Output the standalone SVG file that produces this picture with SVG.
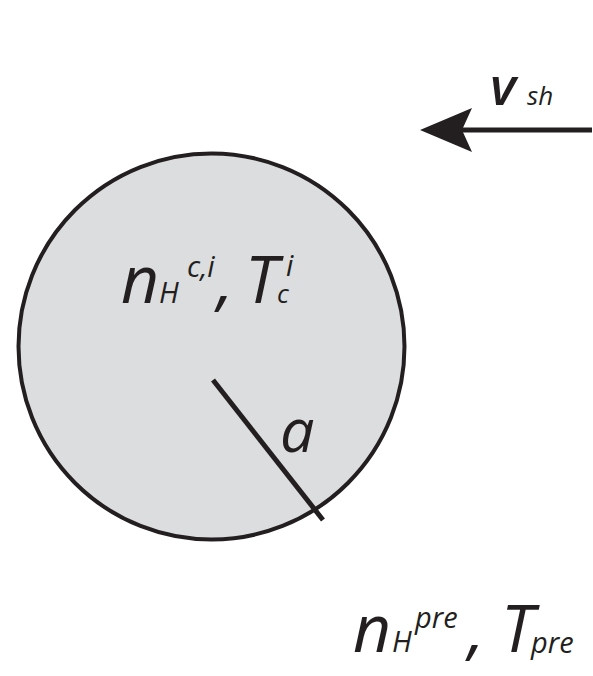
<svg xmlns="http://www.w3.org/2000/svg" width="593" height="676" viewBox="0 0 593 676">
<style>
.t{font-family:"Open Sans","Noto Sans",sans-serif;font-style:italic;font-weight:500;fill:#231f20}
.big{font-size:66px}
.sm{font-size:29px}
</style>
<rect width="593" height="676" fill="#fff"/>
<g id="cloud">
<circle cx="211.5" cy="346.5" r="193" fill="#dcdddf" stroke="#231f20" stroke-width="4"/>
<line x1="213" y1="380" x2="323" y2="520" stroke="#231f20" stroke-width="5"/>
<text class="t" x="280" y="452" font-size="61">a</text>
<text class="t"><tspan class="big" x="121" y="303">n</tspan><tspan class="sm" x="159" y="303">H</tspan><tspan class="sm" x="187" y="277">c,i</tspan><tspan class="big" x="217" y="303">,</tspan><tspan class="big" x="245" y="303">T</tspan><tspan class="sm" x="286" y="276">i</tspan><tspan font-size="26" x="277" y="303">c</tspan></text>
</g>
<g id="connectors">
<line x1="460" y1="130" x2="592" y2="130" stroke="#231f20" stroke-width="5"/>
<path d="M420,130 L472,108 L462,130 L472,152 Z" fill="#231f20"/>
</g>
<g id="labels">
<text class="t"><tspan x="490" y="105" font-size="53" font-weight="600">v</tspan><tspan x="527" y="105" font-size="26">sh</tspan></text>
<text class="t"><tspan class="big" x="353" y="652">n</tspan><tspan class="sm" x="392" y="652">H</tspan><tspan class="sm" x="415" y="628">pre</tspan><tspan class="big" x="468" y="652">,</tspan><tspan class="big" x="501" y="652">T</tspan><tspan class="sm" x="531" y="653">pre</tspan></text>
</g>
</svg>
